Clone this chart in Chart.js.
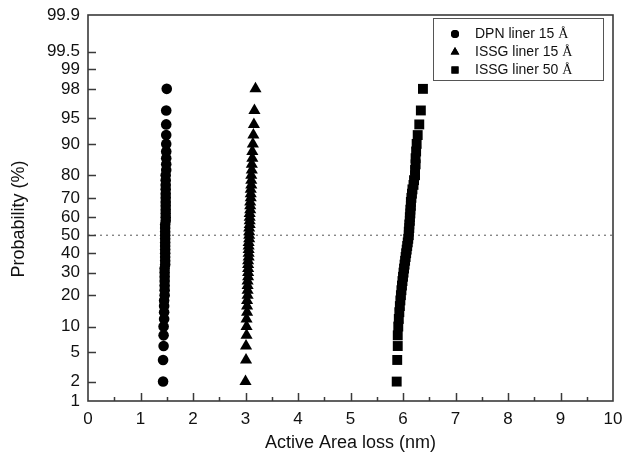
<!DOCTYPE html>
<html>
<head>
<meta charset="utf-8">
<script src="https://cdn.jsdelivr.net/npm/chart.js@4.4.1/dist/chart.umd.min.js"></script>
<style>
html, body { margin: 0; padding: 0; background: #fff; }
</style>
</head>
<body>
<canvas id="myChart" width="625" height="461"></canvas>
<script>
// cumulative probability (%) of each sample
const probs = [2, 4, 6, 8, 10, 12, 14, 16, 18, 20, 22, 24, 26, 28, 30, 32, 34, 36, 38, 40,
  42, 44, 46, 48, 50, 52, 54, 56, 58, 60, 62, 64, 66, 68, 70, 72, 74, 76, 78, 80,
  82, 84, 86, 88, 90, 92, 94, 96, 98];

const dpn15 = [1.43, 1.43, 1.44, 1.44, 1.44, 1.45, 1.45, 1.45, 1.45, 1.46, 1.46, 1.46, 1.46, 1.46,
  1.46, 1.46, 1.47, 1.47, 1.47, 1.47, 1.47, 1.47, 1.47, 1.47, 1.47, 1.47, 1.47, 1.47, 1.48, 1.48,
  1.48, 1.48, 1.48, 1.48, 1.48, 1.48, 1.48, 1.48, 1.48, 1.48, 1.49, 1.49, 1.49, 1.49, 1.49, 1.49,
  1.49, 1.49, 1.50];

const issg15 = [3.00, 3.01, 3.01, 3.02, 3.02, 3.02, 3.03, 3.03, 3.03, 3.04, 3.04, 3.04, 3.04, 3.05,
  3.05, 3.05, 3.05, 3.05, 3.06, 3.06, 3.06, 3.06, 3.06, 3.07, 3.07, 3.07, 3.07, 3.08, 3.08, 3.08,
  3.08, 3.09, 3.09, 3.09, 3.10, 3.10, 3.10, 3.11, 3.11, 3.11, 3.12, 3.12, 3.13, 3.13, 3.14, 3.15,
  3.16, 3.17, 3.19];

const issg50 = [5.88, 5.89, 5.90, 5.90, 5.91, 5.92, 5.93, 5.94, 5.95, 5.96, 5.97, 5.98, 5.99, 6.00,
  6.01, 6.02, 6.03, 6.04, 6.05, 6.06, 6.07, 6.08, 6.09, 6.10, 6.11, 6.11, 6.12, 6.12, 6.13, 6.13,
  6.14, 6.14, 6.15, 6.15, 6.16, 6.17, 6.18, 6.20, 6.21, 6.23, 6.23, 6.24, 6.24, 6.25, 6.26, 6.28,
  6.31, 6.34, 6.38];

const probTicks = [1, 2, 5, 10, 20, 30, 40, 50, 60, 70, 80, 90, 95, 98, 99, 99.5, 99.9];
const xTicks = [0, 1, 2, 3, 4, 5, 6, 7, 8, 9, 10];
const seriesNames = ["DPN liner 15 ", "ISSG liner 15 ", "ISSG liner 50 "];

// inverse normal cdf (Acklam) - used for the probability axis
function probit(p) {
  const a = [-39.69683028665376, 220.9460984245205, -275.9285104469687, 138.3577518672690, -30.66479806614716, 2.506628277459239];
  const b = [-54.47609879822406, 161.5858368580409, -155.6989798598866, 66.80131188771972, -13.28068155288572];
  const c = [-0.007784894002430293, -0.3223964580411365, -2.400758277161838, -2.549732539343734, 4.374664141464968, 2.938163982698783];
  const d = [0.007784695709041462, 0.3224671290700398, 2.445134137142996, 3.754408661907416];
  const pl = 0.02425;
  let q, r;
  if (p < pl) {
    q = Math.sqrt(-2 * Math.log(p));
    return (((((c[0] * q + c[1]) * q + c[2]) * q + c[3]) * q + c[4]) * q + c[5]) / ((((d[0] * q + d[1]) * q + d[2]) * q + d[3]) * q + 1);
  }
  if (p > 1 - pl) {
    q = Math.sqrt(-2 * Math.log(1 - p));
    return -(((((c[0] * q + c[1]) * q + c[2]) * q + c[3]) * q + c[4]) * q + c[5]) / ((((d[0] * q + d[1]) * q + d[2]) * q + d[3]) * q + 1);
  }
  q = p - 0.5;
  r = q * q;
  return (((((a[0] * r + a[1]) * r + a[2]) * r + a[3]) * r + a[4]) * r + a[5]) * q / (((((b[0] * r + b[1]) * r + b[2]) * r + b[3]) * r + b[4]) * r + 1);
}

function points(xs) {
  return xs.map((x, i) => ({ x: x, y: probit(probs[i] / 100) }));
}

const axisColor = "#3a3a3a";

const decor = {
  id: "decor",
  afterDraw(chart) {
    const ctx = chart.ctx;
    const ca = chart.chartArea;
    const xs = chart.scales.x;
    const ys = chart.scales.y;
    ctx.save();
    // ticks, pointing inward
    ctx.strokeStyle = axisColor;
    ctx.lineWidth = 1.5;
    ctx.beginPath();
    for (let v = 0.5; v < 10; v += 0.5) {
      const px = Math.round(xs.getPixelForValue(v)) + 0.5;
      const len = Number.isInteger(v) ? 8 : 4;
      ctx.moveTo(px, ca.bottom);
      ctx.lineTo(px, ca.bottom - len);
    }
    probTicks.forEach(p => {
      if (p === 1 || p === 99.9) return;
      const py = Math.round(ys.getPixelForValue(probit(p / 100))) + 0.5;
      ctx.moveTo(ca.left, py);
      ctx.lineTo(ca.left + 8, py);
    });
    ctx.stroke();
    // frame
    ctx.lineWidth = 1.6;
    ctx.strokeRect(ca.left, ca.top, ca.right - ca.left, ca.bottom - ca.top);

    // axis titles
    ctx.fillStyle = "#111";
    ctx.font = "18px 'Liberation Sans', Arial, sans-serif";
    ctx.textAlign = "center";
    ctx.textBaseline = "middle";
    ctx.fillText("Active Area loss (nm)", (ca.left + ca.right) / 2, 443);
    ctx.save();
    ctx.translate(19, 219);
    ctx.rotate(-Math.PI / 2);
    ctx.fillText("Probability (%)", 0, 0);
    ctx.restore();

    // legend box
    ctx.lineWidth = 1;
    ctx.strokeStyle = "#555";
    ctx.strokeRect(433.5, 18.5, 170, 62);
    const rows = [34, 52, 70];
    const styles = ["circle", "triangle", "rect"];
    const radii = [4, 5, 5];
    rows.forEach((ry, i) => {
      ctx.fillStyle = "#000";
      Chart.helpers.drawPoint(ctx, { pointStyle: styles[i], radius: radii[i], borderWidth: 0 }, 455, ry);
      ctx.fill();
      ctx.font = "14px 'Liberation Sans', Arial, sans-serif";
      ctx.textAlign = "left";
      ctx.fillStyle = "#111";
      ctx.fillText(seriesNames[i], 475, ry);
      const w = ctx.measureText(seriesNames[i]).width;
      ctx.font = "14px 'Liberation Serif', 'Times New Roman', serif";
      ctx.fillText("\u00C5", 475 + w, ry);
    });
    ctx.restore();
  }
};

new Chart(document.getElementById("myChart"), {
  type: "scatter",
  data: {
    datasets: [
      {
        label: "50%",
        type: "line",
        data: [{ x: 0, y: probit(0.5) }, { x: 10, y: probit(0.5) }],
        borderColor: "#555",
        borderWidth: 1,
        borderDash: [2, 4],
        pointRadius: 0,
        order: 5,
      },
      {
        label: seriesNames[0] + "\u00C5",
        data: points(dpn15),
        pointStyle: "circle",
        pointRadius: 5.3,
        backgroundColor: "#000",
        borderWidth: 0,
      },
      {
        label: seriesNames[1] + "\u00C5",
        data: points(issg15),
        pointStyle: "triangle",
        pointRadius: 7,
        backgroundColor: "#000",
        borderWidth: 0,
      },
      {
        label: seriesNames[2] + "\u00C5",
        data: points(issg50),
        pointStyle: "rect",
        pointRadius: 7,
        backgroundColor: "#000",
        borderWidth: 0,
      },
    ],
  },
  options: {
    responsive: false,
    animation: false,
    layout: { padding: { top: 15, right: 12, left: 0, bottom: 0 } },
    plugins: {
      legend: { display: false },
      tooltip: { enabled: false },
    },
    scales: {
      x: {
        type: "linear",
        min: 0,
        max: 10,
        afterFit(scale) {
          scale.height = 60;
          scale.paddingLeft = 0;
          scale.paddingRight = 0;
        },
        afterBuildTicks(scale) { scale.ticks = xTicks.map(v => ({ value: v })); },
        grid: { display: false, drawTicks: false },
        border: { display: false },
        ticks: {
          autoSkip: false,
          maxRotation: 0,
          padding: 8,
          color: "#111",
          font: { size: 17, family: "'Liberation Sans', Arial, sans-serif" },
        },
      },
      y: {
        type: "linear",
        min: probit(0.01),
        max: probit(0.999),
        afterFit(scale) {
          scale.width = 88;
          scale.paddingTop = 0;
          scale.paddingBottom = 0;
        },
        afterBuildTicks(scale) { scale.ticks = probTicks.map(p => ({ value: probit(p / 100) })); },
        grid: { display: false, drawTicks: false },
        border: { display: false },
        ticks: {
          autoSkip: false,
          padding: 8,
          color: "#111",
          font: { size: 17, family: "'Liberation Sans', Arial, sans-serif" },
          callback: (v, i) => String(probTicks[i]),
        },
      },
    },
  },
  plugins: [decor],
});
</script>
</body>
</html>
